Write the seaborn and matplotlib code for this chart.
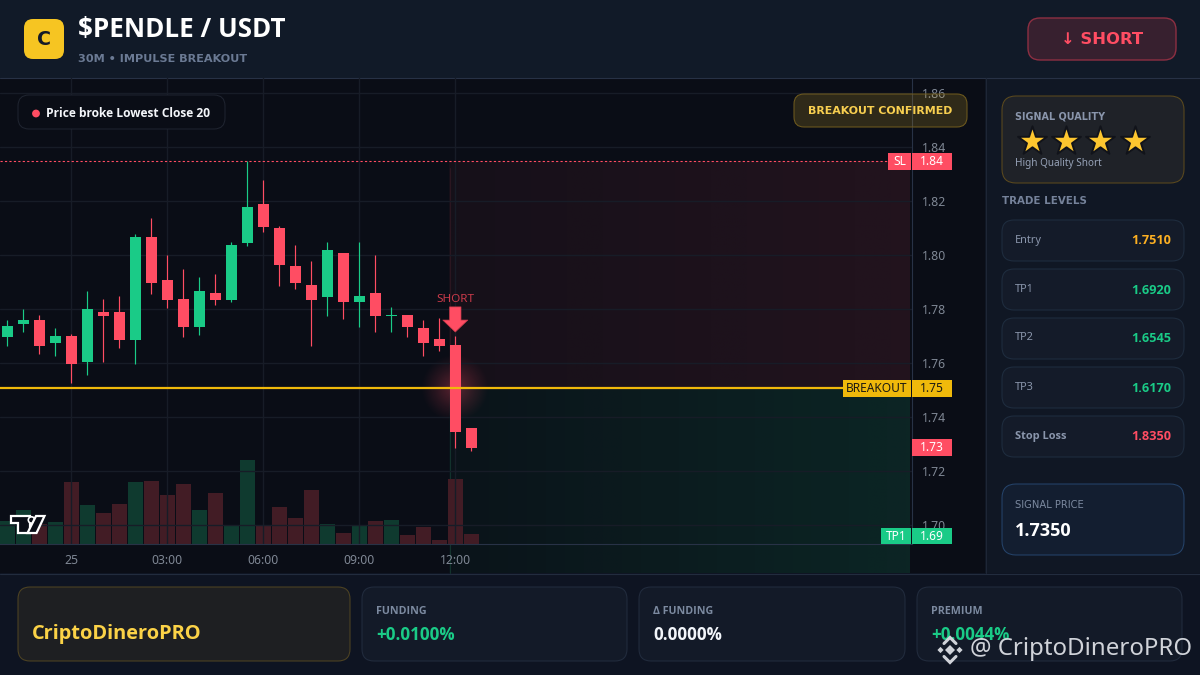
import matplotlib
matplotlib.use("Agg")
import matplotlib.pyplot as plt
from matplotlib.patches import FancyBboxPatch, Rectangle, Circle, Polygon
import seaborn as sns
import pandas as pd
import numpy as np

# candles, 30m each, bar 0 is the "25" tick
bar_index = list(range(-4, 26))
opens = [1.7698, 1.7746, 1.7760, 1.7675, 1.7701, 1.7605, 1.7790, 1.7790, 1.7686, 1.8068,
         1.7909, 1.7838, 1.7735, 1.7860, 1.7835, 1.8046, 1.8190, 1.8101, 1.7960, 1.7890,
         1.7846, 1.8009, 1.7827, 1.7860, 1.7775, 1.7779, 1.7731, 1.7690, 1.7668, 1.7360]
closes = [1.7738, 1.7760, 1.7664, 1.7701, 1.7598, 1.7801, 1.7775, 1.7686, 1.8068, 1.7898,
          1.7835, 1.7735, 1.7868, 1.7835, 1.8038, 1.8179, 1.8105, 1.7964, 1.7898, 1.7835,
          1.8020, 1.7827, 1.7849, 1.7775, 1.7779, 1.7735, 1.7675, 1.7664, 1.7346, 1.7286]
highs = [1.7760, 1.7801, 1.7779, 1.7731, 1.7709, 1.7868, 1.7838, 1.7849, 1.8079, 1.8138,
         1.8001, 1.7949, 1.7920, 1.7931, 1.8049, 1.8348, 1.8279, 1.8109, 1.8038, 1.7979,
         1.8049, 1.8009, 1.8049, 1.8001, 1.7809, 1.7779, 1.7760, 1.7768, 1.7701, 1.7360]
lows = [1.7664, 1.7716, 1.7635, 1.7627, 1.7527, 1.7557, 1.7605, 1.7657, 1.7598, 1.7857,
        1.7805, 1.7698, 1.7705, 1.7816, 1.7827, 1.8035, 1.8086, 1.7886, 1.7875, 1.7664,
        1.7775, 1.7764, 1.7735, 1.7716, 1.7716, 1.7698, 1.7627, 1.7646, 1.7286, 1.7275]
volumes = [69, 102, 60, 66, 186, 117, 93, 120, 186, 189, 147, 180, 102, 153, 57,
           252, 57, 111, 78, 162, 60, 33, 57, 69, 72, 27, 51, 12, 195, 30]
volume_side = ["up", "up", "down", "up", "down", "up", "down", "down", "up", "down",
               "down", "down", "up", "down", "up", "up", "down", "down", "down", "down",
               "up", "down", "up", "down", "up", "down", "down", "down", "down", "down"]

price_ticks = [1.70, 1.72, 1.74, 1.76, 1.78, 1.80, 1.82, 1.84, 1.86]
time_ticks = [0, 6, 12, 18, 24]
time_labels = ["25", "03:00", "06:00", "09:00", "12:00"]

stop_level = 1.835
breakout_level = 1.751
short_bar = 24

level_names = ["Entry", "TP1", "TP2", "TP3", "Stop Loss"]
level_values = ["1.7510", "1.6920", "1.6545", "1.6170", "1.8350"]

GREEN = "#1acb87"
RED = "#ff4d63"
GOLD = "#f0b90b"
GRID = "#171c27"
AXIS_LINE = "#283246"
TICK_TEXT = "#7f8794"
BOLD_FONT = ["Open Sans", "DejaVu Sans"]

sns.set_theme(style="dark")
plt.rcParams["font.family"] = ["Noto Sans", "DejaVu Sans"]
plt.rcParams["patch.force_edgecolor"] = False
W, H = 1200, 675
fig = plt.figure(figsize=(12, 6.75), dpi=100, facecolor="#0e1422")

# whole-figure layer in pixels, for the panels
bg = fig.add_axes([0, 0, 1, 1], zorder=0)
top = fig.add_axes([0, 0, 1, 1], zorder=5)
for a in (bg, top):
    a.set_xlim(0, W)
    a.set_ylim(H, 0)
    a.axis("off")
top.patch.set_visible(False)


def box(a, x0, y0, x1, y1, fill, edge=None, r=12, lw=0.75, alpha=None, z=2):
    p = FancyBboxPatch((x0 + r, y0 + r), x1 - x0 - 2 * r, y1 - y0 - 2 * r,
                       boxstyle=f"round,pad={r},rounding_size={r}", facecolor=fill,
                       edgecolor=edge if edge else "none", linewidth=lw, zorder=z, alpha=alpha)
    a.add_patch(p)
    return p


def label(x, y, s, px, color, weight="normal", ha="left", family=None, a=top, **kw):
    fam = family if family else (BOLD_FONT if weight == "bold" else ["Noto Sans", "DejaVu Sans"])
    return a.text(x, y, s, fontsize=px * 0.72, color=color, fontweight=weight, ha=ha,
                  va="center", family=fam, zorder=8, **kw)


def gradient(x0, x1, y0, y1, rgb, a0, a1):
    img = np.zeros((2, 256, 4))
    img[..., :3] = matplotlib.colors.to_rgb(rgb)
    img[..., 3] = np.linspace(a0, a1, 256)
    bg.imshow(img, extent=(x0, x1, y1, y0), aspect="auto", zorder=2, interpolation="bilinear")


def panel(x, y, w, h, color):
    bg.add_patch(Rectangle((x, y), w, h, facecolor=color, edgecolor="none", linewidth=0, zorder=1))


# panel backgrounds
panel(0, 0, W, 78, "#111a28")
panel(0, 78, 985, 495, "#0a0d16")
panel(985, 78, 215, 495, "#101724")
panel(0, 573, W, 102, "#0e1422")
bg.plot([0, W], [77.5, 77.5], color="#273145", lw=0.8, zorder=3)
bg.plot([0, W], [573.5, 573.5], color="#222c3e", lw=0.8, zorder=3)
bg.plot([985.5, 985.5], [78, 573], color="#1e2636", lw=0.8, zorder=3)

# target zones and glow sit under the chart
gradient(449, 910, 161, 388, RED, 0.05, 0.10)
gradient(449, 910, 388, 573, GREEN, 0.035, 0.13)
bg.plot([449.5, 449.5], [168, 388], color="#2b1620", lw=0.8, zorder=3)
bg.plot([449.5, 449.5], [388, 573], color="#12322c", lw=0.8, zorder=3)
gy, gx = np.mgrid[-1:1:128j, -1:1:128j]
glow = np.zeros((128, 128, 4))
glow[..., :3] = matplotlib.colors.to_rgb(RED)
glow[..., 3] = np.clip(1 - np.hypot(gx, gy), 0, 1) ** 1.2 * 0.34
bg.imshow(glow, extent=(420, 490, 423, 353), aspect="auto", zorder=3)
bg.set_xlim(0, W)
bg.set_ylim(H, 0)

# chart axes: x 0-912 px, y 78-544 px, 16 px per bar, 2700 px per price unit
chart_pos = [0, 1 - 544 / H, 912 / W, 466 / H]
xlim = (-71.3 / 16, (912 - 71.3) / 16)
ylim = (1.70 - 18.67 / 2700, 1.84 + 69.33 / 2700)

vol_ax = fig.add_axes(chart_pos, zorder=1)
vol_ax.patch.set_visible(False)
vol_df = pd.DataFrame({"bar": bar_index, "volume": volumes, "side": volume_side})
sns.barplot(data=vol_df, x="bar", y="volume", hue="side", native_scale=True, dodge=False,
            palette={"up": "#0f3a2f", "down": "#421c25"}, width=0.94, saturation=1,
            linewidth=0, edgecolor="none", legend=False, ax=vol_ax)
vol_ax.set_xlim(xlim)
vol_ax.set_ylim(0, 1398)
vol_ax.axis("off")

ax = fig.add_axes(chart_pos, zorder=2)
ax.patch.set_visible(False)
ax.set_xlim(xlim)
ax.set_ylim(ylim)
ax.set_xticks(time_ticks, time_labels)
ax.set_yticks(price_ticks, [f"{p:.2f}" for p in price_ticks])
ax.yaxis.tick_right()
ax.tick_params(axis="both", length=0, colors=TICK_TEXT, labelsize=8.8)
ax.tick_params(axis="x", pad=7)
ax.tick_params(axis="y", pad=7)
ax.grid(True, color=GRID, lw=1)
ax.set_axisbelow(True)
for side, sp in ax.spines.items():
    sp.set_visible(side in ("right", "bottom"))
    sp.set_color(AXIS_LINE)
    sp.set_linewidth(0.8)

# candles
colors = [GREEN if c >= o else RED for o, c in zip(opens, closes)]
ax.vlines(bar_index, lows, highs, colors=colors, lw=0.85, zorder=3)
body_low = [min(o, c) for o, c in zip(opens, closes)]
body_h = [abs(o - c) for o, c in zip(opens, closes)]
ax.bar(bar_index, body_h, bottom=body_low, width=0.69, color=colors, linewidth=0, zorder=4)

ax.axhline(stop_level, xmax=888 / 912, color=RED, lw=0.8, ls=(0, (2, 2)), zorder=2)
ax.axhline(breakout_level, xmax=843 / 912, color=GOLD, lw=1.6, zorder=5)

ax.annotate("", xy=(short_bar, 1.7716), xytext=(short_bar, 1.7809),
            arrowprops=dict(width=8.2, headwidth=18, headlength=8.6, shrink=0,
                            facecolor=RED, edgecolor="#c93a4a", lw=0.5), zorder=6)
ax.text(short_bar, 1.7836, "SHORT", color="#c93a4a", fontsize=8.4, ha="center", va="center")

# header
box(bg, 24, 19, 64, 59, "#f6c522", r=9)
label(44, 39.5, "C", 19, "#141a28", "bold", ha="center", family=["DejaVu Sans"])
label(78, 30, "$PENDLE / USDT", 26, "#ffffff", "bold")
label(78, 59.5, "30M • IMPULSE BREAKOUT", 11.2, "#6b7a94", "bold", family=["DejaVu Sans"])
box(bg, 1028, 18, 1176, 60, "#37202f", "#8d2f42", r=12, lw=1.0)
label(1102, 40, "↓ SHORT", 16.4, RED, "bold", ha="center", family=["DejaVu Sans"])

# chart overlays
box(top, 18, 95, 225, 129, "#0a0d16", "#1f2430", r=11)
top.add_patch(Circle((36, 113.5), 3.2, color=RED, zorder=8))
label(46, 113.5, "Price broke Lowest Close 20", 12, "#f4f6fa", "bold")
box(top, 794, 94, 967, 127, "#f6c32e", None, r=10, alpha=0.16)
box(top, 794, 94, 967, 127, "none", "#6e5a1e", r=10)
label(880.5, 111, "BREAKOUT CONFIRMED", 11, "#f8cf50", "bold", ha="center", family=["DejaVu Sans"])


def tag(x0, x1, y0, y1, s, fill, fg):
    top.add_patch(Rectangle((x0, y0), x1 - x0, y1 - y0, facecolor=fill, edgecolor="none",
                            linewidth=0, zorder=6))
    label((x0 + x1) / 2, (y0 + y1) / 2, s, 12, fg, ha="center")


tag(888, 911, 153, 170, "SL", RED, "#ffffff")
tag(912, 952, 153, 170, "1.84", RED, "#ffffff")
tag(843, 911, 380, 397, "BREAKOUT", GOLD, "#1c1a12")
tag(912, 952, 380, 397, "1.75", GOLD, "#1c1a12")
tag(912, 952, 439, 456, "1.73", RED, "#ffffff")
tag(881, 911, 528, 544, "TP1", GREEN, "#ffffff")
tag(912, 952, 528, 544, "1.69", GREEN, "#ffffff")

# tradingview mark
top.add_patch(Polygon([(10.5, 516), (30, 516), (30, 533), (18, 533), (18, 523), (10.5, 523)],
                      facecolor="#0a0d16", edgecolor="#ffffff", lw=1.6, zorder=7))
top.add_patch(Circle((31.5, 520), 3.2, facecolor="#0a0d16", edgecolor="#ffffff", lw=1.2, zorder=7))
top.add_patch(Polygon([(36, 516), (44.5, 516), (36.5, 533), (27.5, 533)],
                      facecolor="#0a0d16", edgecolor="#ffffff", lw=1.6, zorder=7))

# right column
box(bg, 1002, 96, 1184, 183, "#1f2228", "#5c4a1e", r=14)
label(1015, 116.5, "SIGNAL QUALITY", 9.7, "#8a96ac", "bold", family=["DejaVu Sans"])
top.scatter([1032, 1066, 1100, 1135], [141, 141, 141, 141], marker="*", s=480,
            color="#fdc62f", edgecolor="#11131a", linewidth=1.4, zorder=8)
label(1015, 163.5, "High Quality Short", 10, "#97a3b8")
label(1002, 200.5, "TRADE LEVELS", 10.2, "#75829a", "bold", family=["DejaVu Sans"])

row_tops = [220, 269, 318, 367, 416]
row_colors = ["#fdb022", GREEN, GREEN, GREEN, RED]
for y0, name, val, col in zip(row_tops, level_names, level_values, row_colors):
    box(bg, 1002, y0, 1184, y0 + 41, "#141b29", "#1f2d3f", r=12)
    label(1015, y0 + 20, name, 11, "#8a96ac", "bold" if name == "Stop Loss" else "normal")
    label(1171, y0 + 21, val, 12.6, col, "bold", ha="right")

box(bg, 1002, 484, 1184, 555, "#131e30", "#25436a", r=14)
label(1015, 505.5, "SIGNAL PRICE", 10, "#7c8aa0", family=["DejaVu Sans"])
label(1015, 530.5, "1.7350", 18, "#ffffff", "bold")

# bottom strip
box(bg, 18, 587, 350, 661, "#1e1f22", "#4f4422", r=12)
label(32, 634, "CriptoDineroPRO", 20, "#fbd247", "bold")
cards = [(362, 627, "FUNDING", "+0.0100%", GREEN),
         (639, 905, "Δ FUNDING", "0.0000%", "#f2f5fa"),
         (917, 1182, "PREMIUM", "+0.0044%", GREEN)]
for x0, x1, name, val, col in cards:
    box(bg, x0, 587, x1, 661, "#131a28", "#222c3e", r=12)
    label(x0 + 14, 611.5, name, 10.6, "#7c8aa0", "bold")
    label(x0 + 14, 635, val, 17, col, "bold")

# watermark
wm = "#d0d3d9"
cx, cy = 950, 650
top.scatter([cx, cx - 9.5, cx + 9.5], [cy, cy, cy], marker="D", s=[26, 10, 10], color=wm, lw=0, zorder=9)
top.plot([cx - 6, cx, cx + 6], [cy - 6.5, cy - 12.5, cy - 6.5], color=wm, lw=2.2, zorder=9,
         solid_joinstyle="miter")
top.plot([cx - 6, cx, cx + 6], [cy + 6.5, cy + 12.5, cy + 6.5], color=wm, lw=2.2, zorder=9,
         solid_joinstyle="miter")
t = label(970, 649, "@ CriptoDineroPRO", 24, wm)
t.set_zorder(9)

fig.savefig("out.png", dpi=100, facecolor=fig.get_facecolor())
